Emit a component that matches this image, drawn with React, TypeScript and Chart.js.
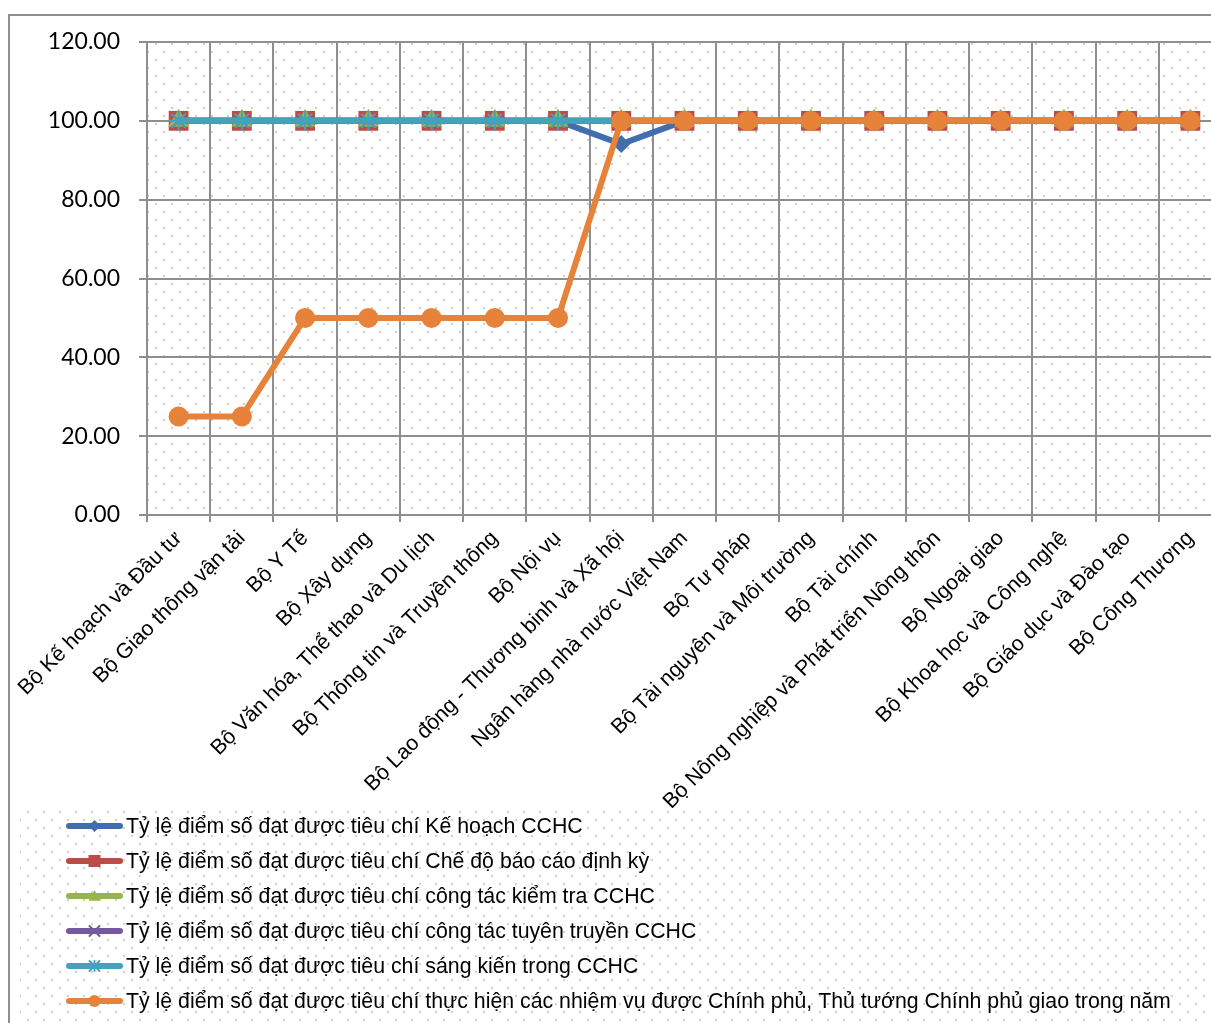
import React, { useEffect, useRef } from 'react';
import { Chart, registerables } from 'chart.js';

Chart.register(...registerables);

const categories = [
  'Bộ Kế hoạch và Đầu tư',
  'Bộ Giao thông vận tải',
  'Bộ Y Tế',
  'Bộ Xây dựng',
  'Bộ Văn hóa, Thể thao và Du lịch',
  'Bộ Thông tin và Truyền thông',
  'Bộ Nội vụ',
  'Bộ Lao động - Thương binh và Xã hội',
  'Ngân hàng nhà nước Việt Nam',
  'Bộ Tư pháp',
  'Bộ Tài nguyên và Môi trường',
  'Bộ Tài chính',
  'Bộ Nông nghiệp và Phát triển Nông thôn',
  'Bộ Ngoại giao',
  'Bộ Khoa học và Công nghệ',
  'Bộ Giáo dục và Đào tạo',
  'Bộ Công Thương',
];

const keHoach = [100, 100, 100, 100, 100, 100, 100, 94.12, 100, 100, 100, 100, 100, 100, 100, 100, 100];
const cheDoBaoCao = [100, 100, 100, 100, 100, 100, 100, 100, 100, 100, 100, 100, 100, 100, 100, 100, 100];
const kiemTra = [100, 100, 100, 100, 100, 100, 100, 100, 100, 100, 100, 100, 100, 100, 100, 100, 100];
const tuyenTruyen = [100, 100, 100, 100, 100, 100, 100, 100, 100, 100, 100, 100, 100, 100, 100, 100, 100];
const sangKien = [100, 100, 100, 100, 100, 100, 100, 100, 100, 100, 100, 100, 100, 100, 100, 100, 100];
const nhiemVu = [25, 25, 50, 50, 50, 50, 50, 100, 100, 100, 100, 100, 100, 100, 100, 100, 100];

const seriesLabels = [
  'Tỷ lệ điểm số đạt được tiêu chí Kế hoạch CCHC',
  'Tỷ lệ điểm số đạt được tiêu chí Chế độ báo cáo định kỳ',
  'Tỷ lệ điểm số đạt được tiêu chí công tác kiểm tra CCHC',
  'Tỷ lệ điểm số đạt được tiêu chí công tác tuyên truyền CCHC',
  'Tỷ lệ điểm số đạt được tiêu chí sáng kiến trong CCHC',
  'Tỷ lệ điểm số đạt được tiêu chí thực hiện các nhiệm vụ được Chính phủ, Thủ tướng Chính phủ giao trong năm',
];

const seriesColors = ['#416EAF', '#BE4B48', '#97B54F', '#7458A0', '#44A2C0', '#E6823A'];
const seriesStyles = ['rectRot', 'rect', 'triangle', 'crossRot', 'star', 'circle'];

const yMin = 0;
const yMax = 120;
const yStep = 20;

const GRID = '#8e8e8e';
const TEXT_FONT = "'Liberation Sans', Arial, sans-serif";

function makeDots(ctx: CanvasRenderingContext2D, color: string) {
  const c = document.createElement('canvas');
  c.width = 16;
  c.height = 16;
  const g = c.getContext('2d')!;
  g.fillStyle = color;
  g.fillRect(3, 3, 2, 2);
  g.fillRect(11, 11, 2, 2);
  return ctx.createPattern(c, 'repeat')!;
}

function drawMarker(ctx: CanvasRenderingContext2D, style: string, x: number, y: number, r: number, color: string) {
  ctx.save();
  ctx.fillStyle = color;
  ctx.strokeStyle = color;
  ctx.lineWidth = 2;
  ctx.beginPath();
  if (style === 'rectRot') {
    ctx.moveTo(x - r, y);
    ctx.lineTo(x, y - r);
    ctx.lineTo(x + r, y);
    ctx.lineTo(x, y + r);
    ctx.closePath();
    ctx.fill();
  } else if (style === 'rect') {
    ctx.rect(x - r, y - r, 2 * r, 2 * r);
    ctx.fill();
  } else if (style === 'triangle') {
    ctx.moveTo(x, y - r);
    ctx.lineTo(x + r, y + r * 0.8);
    ctx.lineTo(x - r, y + r * 0.8);
    ctx.closePath();
    ctx.fill();
  } else if (style === 'crossRot') {
    ctx.moveTo(x - r, y - r);
    ctx.lineTo(x + r, y + r);
    ctx.moveTo(x + r, y - r);
    ctx.lineTo(x - r, y + r);
    ctx.stroke();
  } else if (style === 'star') {
    ctx.moveTo(x - r, y - r);
    ctx.lineTo(x + r, y + r);
    ctx.moveTo(x + r, y - r);
    ctx.lineTo(x - r, y + r);
    ctx.moveTo(x, y - r);
    ctx.lineTo(x, y + r);
    ctx.stroke();
  } else {
    ctx.arc(x, y, r, 0, Math.PI * 2);
    ctx.fill();
  }
  ctx.restore();
}

const legendMarkerSize = [6, 6, 6, 5, 5, 6];

const backgroundPlugin = {
  id: 'bgPlugin',
  beforeDraw(chart: any) {
    const { ctx, chartArea } = chart;
    ctx.save();
    ctx.fillStyle = '#ffffff';
    ctx.fillRect(0, 0, chart.width, chart.height);
    ctx.fillStyle = makeDots(ctx, '#d5d2bd');
    ctx.fillRect(20, 808, chart.width - 20, chart.height - 808);
    ctx.fillStyle = makeDots(ctx, '#cdcdcd');
    ctx.fillRect(chartArea.left, chartArea.top, chartArea.right - chartArea.left, chartArea.bottom - chartArea.top);
    ctx.strokeStyle = '#8e8e8e';
    ctx.lineWidth = 2;
    ctx.beginPath();
    ctx.moveTo(9, chart.height + 5);
    ctx.lineTo(9, 15);
    ctx.lineTo(chart.width + 5, 15);
    ctx.stroke();
    ctx.restore();
  },
  afterDraw(chart: any) {
    const { ctx } = chart;
    ctx.save();
    seriesLabels.forEach((label, i) => {
      const y = 826 + 35 * i;
      const color = seriesColors[i];
      ctx.strokeStyle = color;
      ctx.lineWidth = 6;
      ctx.lineCap = 'round';
      ctx.beginPath();
      ctx.moveTo(69, y);
      ctx.lineTo(120, y);
      ctx.stroke();
      drawMarker(ctx, seriesStyles[i], 94.5, y, legendMarkerSize[i], color);
      ctx.fillStyle = '#000000';
      ctx.font = `21.3px ${TEXT_FONT}`;
      ctx.textBaseline = 'middle';
      ctx.textAlign = 'left';
      ctx.fillText(label, 126, y + 1);
    });
    ctx.restore();
  },
};

const seriesData = [keHoach, cheDoBaoCao, kiemTra, tuyenTruyen, sangKien, nhiemVu];
const pointRadii = [9, 14, 12, 9, 10, 10];

export default function App() {
  const ref = useRef<HTMLCanvasElement | null>(null);

  useEffect(() => {
    if (!ref.current) return;
    const chart = new Chart(ref.current, {
      type: 'line',
      data: {
        labels: categories,
        datasets: seriesData.map((d, i) => ({
          label: seriesLabels[i],
          data: d,
          borderColor: seriesColors[i],
          backgroundColor: seriesColors[i],
          borderWidth: 6,
          pointStyle: seriesStyles[i] as any,
          pointRadius: pointRadii[i],
          pointBackgroundColor: seriesColors[i],
          pointBorderColor: seriesColors[i],
          pointBorderWidth: i === 3 || i === 4 ? 2 : 0,
          tension: 0,
          fill: false,
          order: 6 - i,
        })),
      },
      options: {
        animation: false,
        responsive: false,
        maintainAspectRatio: false,
        devicePixelRatio: 1,
        layout: { padding: { left: 0, top: 42, right: 18, bottom: 215 } },
        plugins: {
          legend: { display: false },
          tooltip: { enabled: false },
        },
        scales: {
          x: {
            type: 'category',
            offset: true,
            grid: {
              offset: true,
              color: GRID,
              lineWidth: 2,
              tickLength: 7,
              drawTicks: true,
            },
            border: { color: GRID, width: 2 },
            ticks: {
              autoSkip: false,
              maxRotation: 45,
              minRotation: 45,
              color: '#000000',
              padding: 4,
              font: { family: TEXT_FONT, size: 21.3 },
            },
            afterFit(scale: any) {
              scale.height = 1023 - 215 - 515;
            },
          },
          y: {
            min: yMin,
            max: yMax,
            grid: { color: GRID, lineWidth: 2, tickLength: 8 },
            border: { color: GRID, width: 2 },
            ticks: {
              stepSize: yStep,
              color: '#000000',
              padding: 19,
              font: { family: "Lato, 'Open Sans', sans-serif", size: 23 },
              callback: (v: any) => Number(v).toFixed(2),
            },
            afterFit(scale: any) {
              scale.width = 147;
            },
          },
        },
      },
      plugins: [backgroundPlugin],
    });
    return () => chart.destroy();
  }, []);

  return (
    <div style={{ position: 'absolute', left: 0, top: 0, width: 1211, height: 1023, overflow: 'hidden' }}>
      <canvas ref={ref} width={1240} height={1023} style={{ display: 'block', width: 1240, height: 1023 }} />
    </div>
  );
}
